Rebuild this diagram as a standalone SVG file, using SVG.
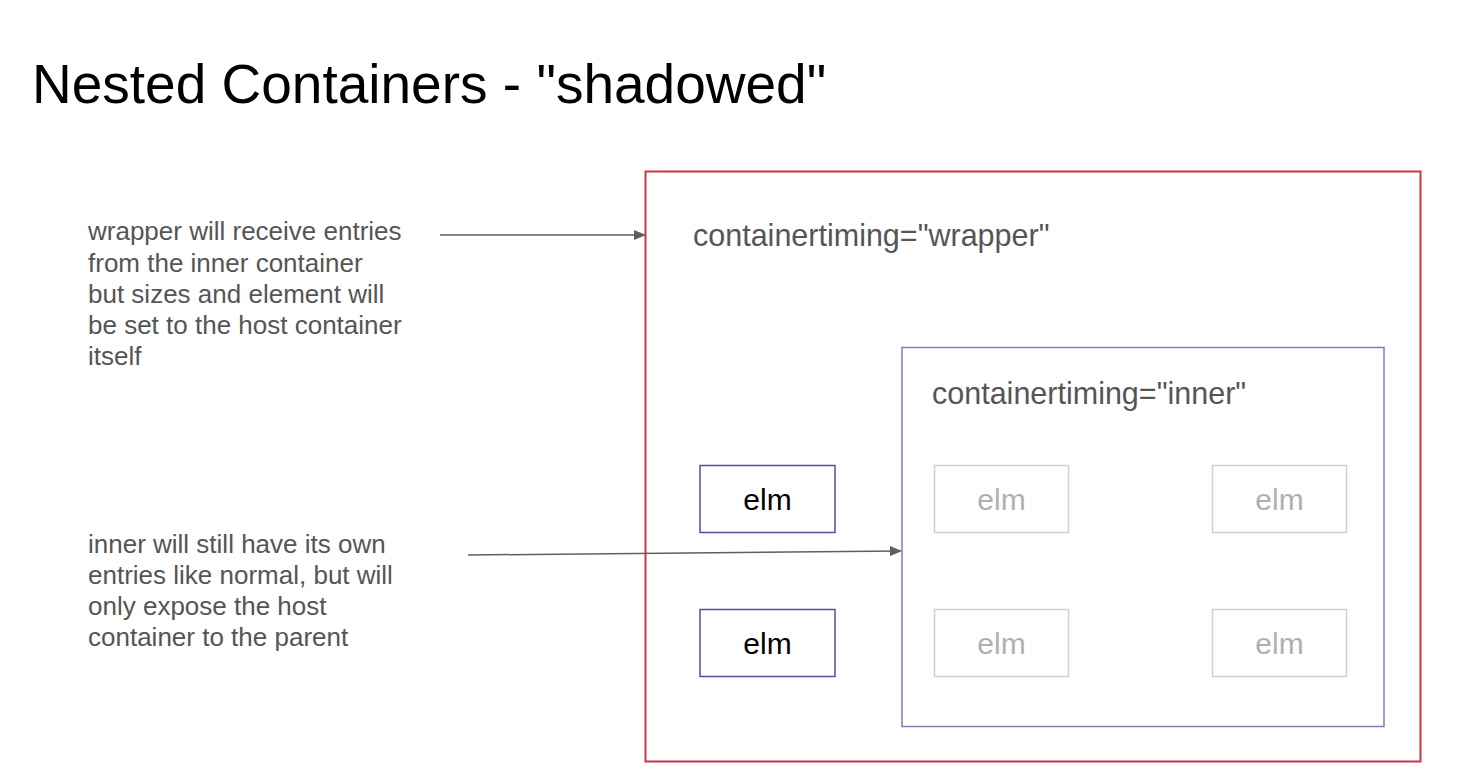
<svg xmlns="http://www.w3.org/2000/svg" width="1474" height="782" viewBox="0 0 1474 782">
<style>
text{font-family:"Liberation Sans",Arial,sans-serif}
.title{font-size:55px;fill:#000}
.note{font-size:26px;fill:#555}
.lbl{font-size:30.5px;fill:#555}
.elm{fill:#fff;stroke:#5b4a9a;stroke-width:1.5}
.elmt{font-size:30px;fill:#000;text-anchor:middle}
.gelm{fill:#fff;stroke:#d0d0d0;stroke-width:1.5}
.gelmt{font-size:30px;fill:#b0b0b0;text-anchor:middle}
.conn{stroke:#5f5f5f;stroke-width:1.5;fill:none}
</style>
<defs>
<marker id="ah" markerWidth="12" markerHeight="10" refX="11" refY="5" orient="auto" markerUnits="userSpaceOnUse">
<path d="M0,0 L12,5 L0,10 Z" fill="#5f5f5f"/>
</marker>
</defs>
<rect width="1474" height="782" fill="#fff"/>
<text class="title" x="32" y="103">Nested Containers - "shadowed"</text>
<g id="note1">
<text class="note" x="88" y="240">wrapper will receive entries</text>
<text class="note" x="88" y="272">from the inner container</text>
<text class="note" x="88" y="303">but sizes and element will</text>
<text class="note" x="88" y="334">be set to the host container</text>
<text class="note" x="88" y="365">itself</text>
</g>
<g id="note2">
<text class="note" x="88" y="553">inner will still have its own</text>
<text class="note" x="88" y="584">entries like normal, but will</text>
<text class="note" x="88" y="615">only expose the host</text>
<text class="note" x="88" y="646">container to the parent</text>
</g>
<g id="wrapper">
<rect x="645.5" y="171.5" width="775" height="590" fill="none" stroke="#cc3344" stroke-width="2"/>
<text class="lbl" x="693" y="246">containertiming="wrapper"</text>
</g>
<g id="inner">
<rect x="902" y="347.5" width="482" height="379" fill="none" stroke="#8878bb" stroke-width="1.5"/>
<text class="lbl" x="932" y="404">containertiming="inner"</text>
</g>
<g id="elm1"><rect class="elm" x="700" y="465.5" width="135" height="67"/><text class="elmt" x="767.5" y="510">elm</text></g>
<g id="elm2"><rect class="elm" x="700" y="609.5" width="135" height="67"/><text class="elmt" x="767.5" y="654">elm</text></g>
<g id="elm3"><rect class="gelm" x="934.5" y="465.5" width="134" height="67"/><text class="gelmt" x="1001.5" y="510">elm</text></g>
<g id="elm4"><rect class="gelm" x="1212.5" y="465.5" width="134" height="67"/><text class="gelmt" x="1279.5" y="510">elm</text></g>
<g id="elm5"><rect class="gelm" x="934.5" y="609.5" width="134" height="67"/><text class="gelmt" x="1001.5" y="654">elm</text></g>
<g id="elm6"><rect class="gelm" x="1212.5" y="609.5" width="134" height="67"/><text class="gelmt" x="1279.5" y="654">elm</text></g>
<g id="connectors">
<line class="conn" x1="440" y1="235" x2="645" y2="235" marker-end="url(#ah)"/>
<line class="conn" x1="468" y1="555" x2="901" y2="551" marker-end="url(#ah)"/>
</g>
</svg>
